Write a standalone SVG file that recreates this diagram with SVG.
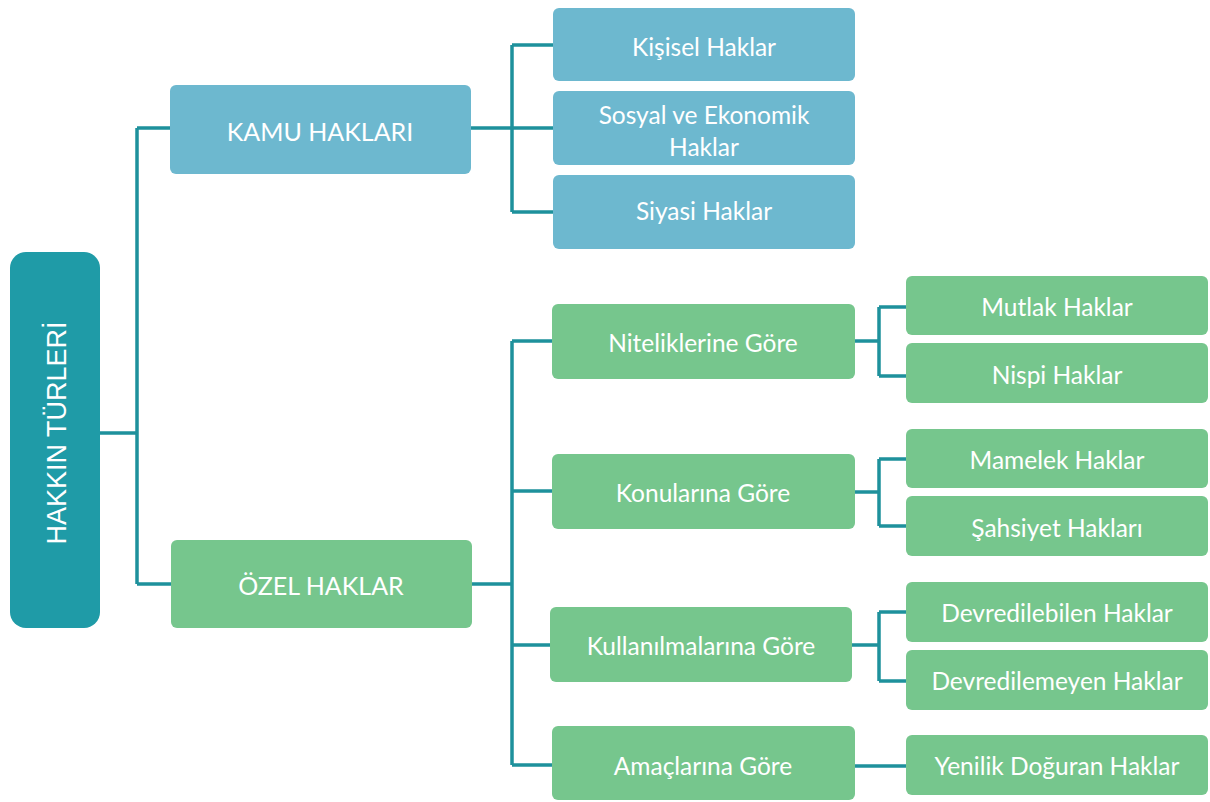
<svg xmlns="http://www.w3.org/2000/svg" width="1210" height="802" viewBox="0 0 1210 802">
<style>
.root{fill:#1F9BA7}
.blue{fill:#6DB8CF}
.green{fill:#76C68D}
.t{fill:#fff;font-family:Lato,"Open Sans",sans-serif;font-size:24.5px;text-anchor:middle;dominant-baseline:central}
.tb{font-size:25px}
.tr{fill:#fff;font-family:"Liberation Sans",Arial,sans-serif;font-size:27px;text-anchor:middle;dominant-baseline:central}
.c{fill:none;stroke:#1E919C;stroke-width:3.5}
</style>
<rect width="1210" height="802" fill="#fff"/>
<g id="connectors">
<path class="c" d="M100 433H137M137 128V584M137 128H170M137 584H171"/>
<path class="c" d="M471 128H512M512 45V212M512 45H553M512 128H553M512 212H553"/>
<path class="c" d="M472 584H512M512 341V765M512 341H552M512 491H552M512 645H550M512 765H552"/>
<path class="c" d="M855 341H879M879 307V376M879 307H906M879 376H906"/>
<path class="c" d="M855 492H879M879 459V526M879 459H906M879 526H906"/>
<path class="c" d="M852 645H879M879 612V681M879 612H906M879 681H906"/>
<path class="c" d="M855 766H906"/>
</g>
<g id="root"><rect class="root" x="10" y="252" width="90" height="376" rx="16"/><text class="tr" transform="translate(57 433) rotate(-90)">HAKKIN TÜRLERİ</text></g>
<g id="kamu"><rect class="blue" x="170" y="85" width="301" height="89" rx="6"/><text class="t tb" x="320" y="131">KAMU HAKLARI</text></g>
<g id="ozel"><rect class="green" x="171" y="540" width="301" height="88" rx="6"/><text class="t tb" x="321" y="585">ÖZEL HAKLAR</text></g>
<g id="kisisel"><rect class="blue" x="553" y="8" width="302" height="73" rx="6"/><text class="t" x="704" y="46">Kişisel Haklar</text></g>
<g id="sosyal"><rect class="blue" x="553" y="91" width="302" height="74" rx="6"/><text class="t" x="704" y="114">Sosyal ve Ekonomik</text><text class="t" x="704" y="146">Haklar</text></g>
<g id="siyasi"><rect class="blue" x="553" y="175" width="302" height="74" rx="6"/><text class="t" x="704" y="210">Siyasi Haklar</text></g>
<g id="nitelik"><rect class="green" x="552" y="304" width="303" height="75" rx="6"/><text class="t" x="703" y="342">Niteliklerine Göre</text></g>
<g id="konu"><rect class="green" x="552" y="454" width="303" height="75" rx="6"/><text class="t" x="703" y="492">Konularına Göre</text></g>
<g id="kullanim"><rect class="green" x="550" y="607" width="302" height="75" rx="6"/><text class="t" x="701" y="645">Kullanılmalarına Göre</text></g>
<g id="amac"><rect class="green" x="552" y="726" width="303" height="74" rx="6"/><text class="t" x="703" y="765">Amaçlarına Göre</text></g>
<g id="mutlak"><rect class="green" x="906" y="276" width="302" height="59" rx="6"/><text class="t" x="1057" y="306">Mutlak Haklar</text></g>
<g id="nispi"><rect class="green" x="906" y="343" width="302" height="60" rx="6"/><text class="t" x="1057" y="374">Nispi Haklar</text></g>
<g id="mamelek"><rect class="green" x="906" y="429" width="302" height="59" rx="6"/><text class="t" x="1057" y="459">Mamelek Haklar</text></g>
<g id="sahsiyet"><rect class="green" x="906" y="496" width="302" height="60" rx="6"/><text class="t" x="1057" y="527">Şahsiyet Hakları</text></g>
<g id="devredilebilen"><rect class="green" x="906" y="582" width="302" height="60" rx="6"/><text class="t" x="1057" y="612">Devredilebilen Haklar</text></g>
<g id="devredilemeyen"><rect class="green" x="906" y="650" width="302" height="60" rx="6"/><text class="t" x="1057" y="680">Devredilemeyen Haklar</text></g>
<g id="yenilik"><rect class="green" x="906" y="735" width="302" height="60" rx="6"/><text class="t" x="1057" y="765">Yenilik Doğuran Haklar</text></g>
</svg>
